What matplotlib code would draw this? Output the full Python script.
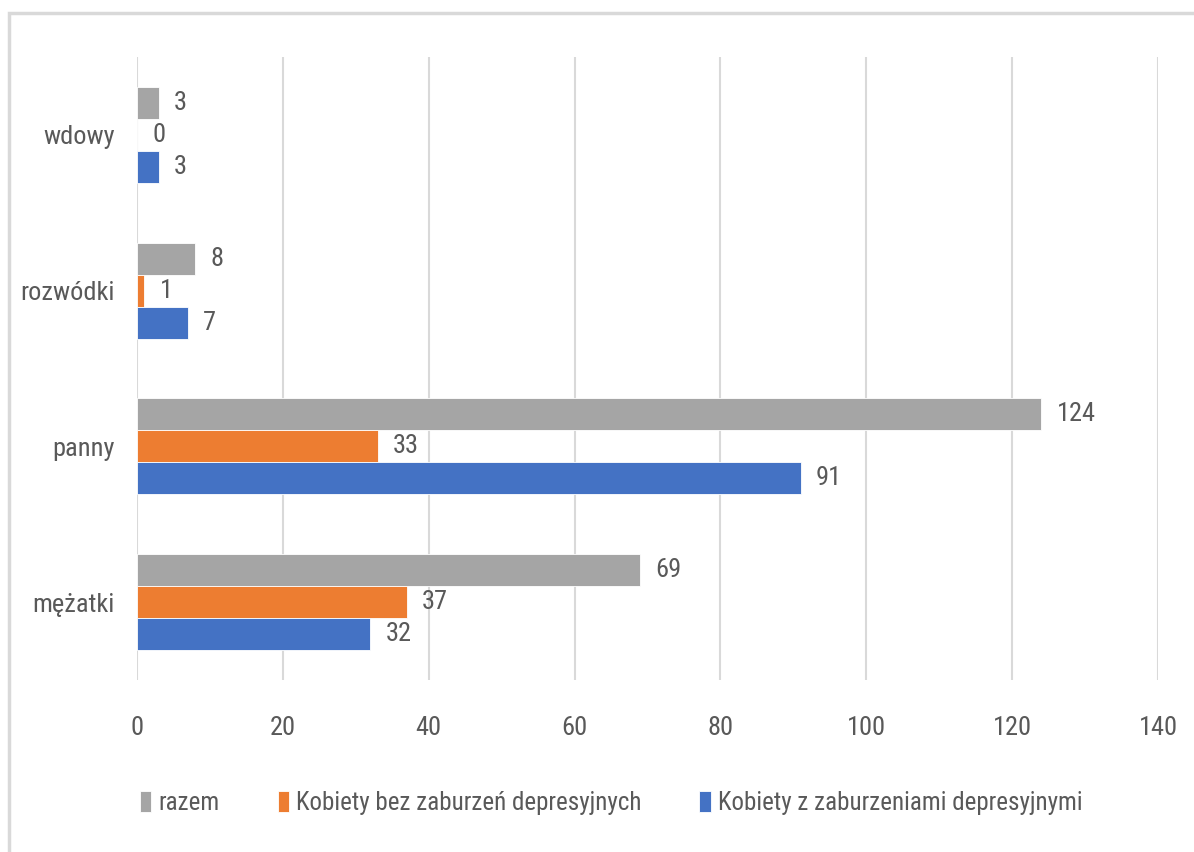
import os
import matplotlib.pyplot as plt
import numpy as np
from matplotlib.patches import Rectangle
from matplotlib import font_manager
from matplotlib.font_manager import FontProperties

categories = ["mężatki", "panny", "rozwódki", "wdowy"]
razem = [69, 124, 8, 3]
bez_zaburzen = [37, 33, 1, 0]
z_zaburzeniami = [32, 91, 7, 3]

series_names = [
    "razem",
    "Kobiety bez zaburzeń depresyjnych",
    "Kobiety z zaburzeniami depresyjnymi",
]
colors = ["#a5a5a5", "#ed7d31", "#4472c4"]
text_color = "#595959"

# narrow font similar to the original, first one found wins
files = {os.path.basename(f.fname): f.fname for f in font_manager.fontManager.ttflist}
wanted = [("LiberationSansNarrow-Regular.ttf", 20),
          ("RobotoCondensed-Regular.ttf", 19),
          ("DejaVuSansCondensed.ttf", 17)]
fpath, fsize = None, 17
for name, size in wanted:
    if name in files:
        fpath, fsize = files[name], size
        break


def fp(size=None):
    size = size or fsize
    if fpath:
        return FontProperties(fname=fpath, size=size)
    return FontProperties(family="DejaVu Sans", stretch="condensed", size=size)


fig = plt.figure(figsize=(11.94, 8.52), dpi=100)
ax = fig.add_axes([0.1147, 0.2019, 0.8551, 0.7312])

# outer frame of the chart area
fig.patches.append(
    Rectangle((9 / 1194, -0.05), 1.2, 1 - 13 / 852 + 0.05,
              transform=fig.transFigure, fill=False,
              edgecolor="#d9d9d9", linewidth=2.5, zorder=0)
)

y = np.arange(len(categories))
h = 0.205
series = [razem, bez_zaburzen, z_zaburzeniami]
offsets = [h, 0, -h]

handles = []
for vals, off, col, name in zip(series, offsets, colors, series_names):
    bars = ax.barh(y + off, vals, height=h, color=col, edgecolor="white",
                   linewidth=0.6, label=name, zorder=3)
    handles.append(bars)
    for yy, v in zip(y + off, vals):
        ax.annotate(str(v), (v, yy), xytext=(11, 0), textcoords="offset points",
                    va="center", ha="left", color=text_color,
                    fontproperties=fp())

ax.set_xlim(0, 140)
ax.set_ylim(-0.5, 3.5)
ax.set_xticks(np.arange(0, 141, 20))
ax.set_yticks(y)
ax.set_yticklabels(categories)
ax.grid(axis="x", color="#d9d9d9", linewidth=1.5, zorder=0)
ax.set_axisbelow(True)
for s in ax.spines.values():
    s.set_visible(False)
ax.tick_params(axis="x", length=0, pad=26, labelcolor=text_color)
ax.tick_params(axis="y", length=0, pad=16, labelcolor=text_color)
for lab in ax.get_xticklabels() + ax.get_yticklabels():
    lab.set_fontproperties(fp())

fig.legend(handles=handles, labels=series_names, loc="center",
           bbox_to_anchor=(0.512, 0.0575), ncol=3, frameon=False,
           prop=fp(fsize - 1), labelcolor=text_color, handlelength=0.45,
           handleheight=0.95, handletextpad=0.3, columnspacing=2.3)

fig.savefig("out.png", dpi=100)
